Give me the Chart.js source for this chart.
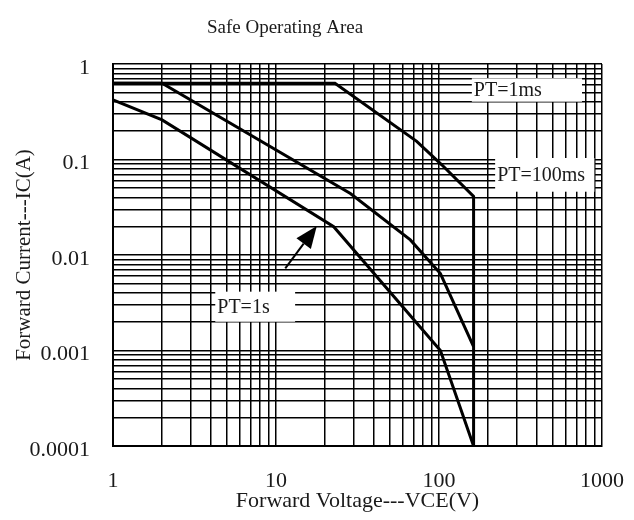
<!DOCTYPE html>
<html>
<head>
<meta charset="utf-8">
<script src="https://cdn.jsdelivr.net/npm/chart.js@4.4.1/dist/chart.umd.min.js"></script>
<style>
  body { margin: 0; background: #fff; }
  #wrap { width: 634px; height: 520px; position: relative; }
</style>
</head>
<body>
<div id="wrap"><canvas id="soa"></canvas></div>
<script>
// curve data (VCE in volts, IC in amps)
const vce1ms = [1, 23, 73, 104, 163, 163];
const ic1ms = [0.63, 0.63, 0.155, 0.088, 0.041, 0.0001];

const vce100ms = [1, 2, 28.6, 66.7, 102, 163];
const ic100ms = [0.63, 0.63, 0.044, 0.0144, 0.0064, 0.0011];

const vce1s = [1, 2, 22.6, 102, 163];
const ic1s = [0.42, 0.26, 0.0198, 0.001, 0.0001];

// decades on each axis (labelled ticks)
const xDecades = [1, 10, 100, 1000];
const yDecades = [0.0001, 0.001, 0.01, 0.1, 1];

const labels = ['PT=1ms', 'PT=100ms', 'PT=1s'];

const FONT = "'Liberation Serif', 'DejaVu Serif', serif";

function toPoints(xs, ys) {
    return xs.map((x, i) => ({ x: x, y: ys[i] }));
}

// every 1..9 subdivision of each decade, so grid lines match the printed log paper
function logTicks(decades) {
    const out = [];
    for (let i = 0; i < decades.length - 1; i++) {
        for (let m = 1; m <= 9; m++) out.push({ value: m * decades[i] });
    }
    out.push({ value: decades[decades.length - 1] });
    return out;
}

function isDecade(v) {
    const l = Math.log10(v);
    return Math.abs(l - Math.round(l)) < 1e-9;
}

// text boxes and arrow drawn on top of the curves
const notesPlugin = {
    id: 'notes',
    afterDatasetsDraw(chart) {
        const { ctx, scales: { x, y } } = chart;
        const boxes = [
            { text: labels[0], x1: 159, x2: 754, y1: 0.708, y2: 0.403 },
            { text: labels[1], x1: 221, x2: 898, y1: 0.1037, y2: 0.046 },
            { text: labels[2], x1: 4.24, x2: 13.1, y1: 0.00413, y2: 0.002 }
        ];
        ctx.save();
        boxes.forEach(b => {
            const l = x.getPixelForValue(b.x1), r = x.getPixelForValue(b.x2);
            const t = y.getPixelForValue(b.y1), btm = y.getPixelForValue(b.y2);
            ctx.fillStyle = '#fff';
            ctx.fillRect(l, t, r - l, btm - t);
            ctx.fillStyle = '#1a1a1a';
            ctx.font = '20px ' + FONT;
            ctx.textAlign = 'left';
            ctx.textBaseline = 'middle';
            ctx.fillText(b.text, l + 2, (t + btm) / 2 + 1);
        });

        // arrow pointing at the PT=1s curve
        const tx = x.getPixelForValue(11.4), ty = y.getPixelForValue(0.00726);
        const hx = x.getPixelForValue(17.8), hy = y.getPixelForValue(0.0201);
        const ang = Math.atan2(hy - ty, hx - tx);
        const len = 22, half = 9;
        const bx = hx - Math.cos(ang) * len, by = hy - Math.sin(ang) * len;
        ctx.strokeStyle = '#000';
        ctx.lineWidth = 2;
        ctx.beginPath();
        ctx.moveTo(tx, ty);
        ctx.lineTo(bx, by);
        ctx.stroke();
        ctx.fillStyle = '#000';
        ctx.beginPath();
        ctx.moveTo(hx, hy);
        ctx.lineTo(bx + Math.sin(ang) * half, by - Math.cos(ang) * half);
        ctx.lineTo(bx - Math.sin(ang) * half, by + Math.cos(ang) * half);
        ctx.closePath();
        ctx.fill();
        ctx.restore();
    },
    afterDraw(chart) {
        const ctx = chart.ctx;
        ctx.save();
        ctx.fillStyle = '#1a1a1a';
        ctx.font = '19px ' + FONT;
        ctx.textAlign = 'center';
        ctx.textBaseline = 'middle';
        ctx.fillText('Safe Operating Area', 285, 28);
        ctx.restore();
    }
};

const lineStyle = {
    borderColor: '#000',
    borderWidth: 3,
    pointRadius: 0,
    tension: 0,
    fill: false
};

new Chart(document.getElementById('soa').getContext('2d'), {
    type: 'line',
    data: {
        datasets: [
            Object.assign({ label: labels[0], data: toPoints(vce1ms, ic1ms) }, lineStyle),
            Object.assign({ label: labels[1], data: toPoints(vce100ms, ic100ms) }, lineStyle),
            Object.assign({ label: labels[2], data: toPoints(vce1s, ic1s) }, lineStyle)
        ]
    },
    options: {
        responsive: true,
        maintainAspectRatio: false,
        animation: false,
        layout: { padding: { top: 64, right: 32, left: 0, bottom: 0 } },
        plugins: {
            legend: { display: false },
            tooltip: { enabled: false }
        },
        scales: {
            x: {
                type: 'logarithmic',
                min: 1,
                max: 1000,
                afterBuildTicks: (s) => { s.ticks = logTicks(xDecades); },
                afterFit: (s) => { s.height = 74; },
                grid: { color: '#000', lineWidth: 1.5, drawTicks: false },
                border: { color: '#000', width: 2 },
                ticks: {
                    autoSkip: false,
                    maxRotation: 0,
                    padding: 10,
                    color: '#1a1a1a',
                    font: { family: FONT, size: 22, lineHeight: 2.3 },
                    callback: (v) => isDecade(v) ? String(v) : ''
                },
                title: {
                    display: true,
                    text: 'Forward Voltage---VCE(V)',
                    color: '#1a1a1a',
                    font: { family: FONT, size: 22 },
                    padding: { top: 0, bottom: 6 }
                }
            },
            y: {
                type: 'logarithmic',
                min: 0.0001,
                max: 1,
                afterBuildTicks: (s) => { s.ticks = logTicks(yDecades); },
                afterFit: (s) => { s.width = 113; },
                grid: { color: '#000', lineWidth: 1.5, drawTicks: false },
                border: { color: '#000', width: 2 },
                ticks: {
                    autoSkip: false,
                    padding: 23,
                    labelOffset: 4,
                    color: '#1a1a1a',
                    font: { family: FONT, size: 22 },
                    callback: (v) => isDecade(v) ? String(v) : ''
                },
                title: {
                    display: true,
                    text: 'Forward Current---IC(A)',
                    color: '#1a1a1a',
                    font: { family: FONT, size: 21 },
                    padding: { top: 12, bottom: 0 }
                }
            }
        }
    },
    plugins: [notesPlugin]
});
</script>
</body>
</html>
